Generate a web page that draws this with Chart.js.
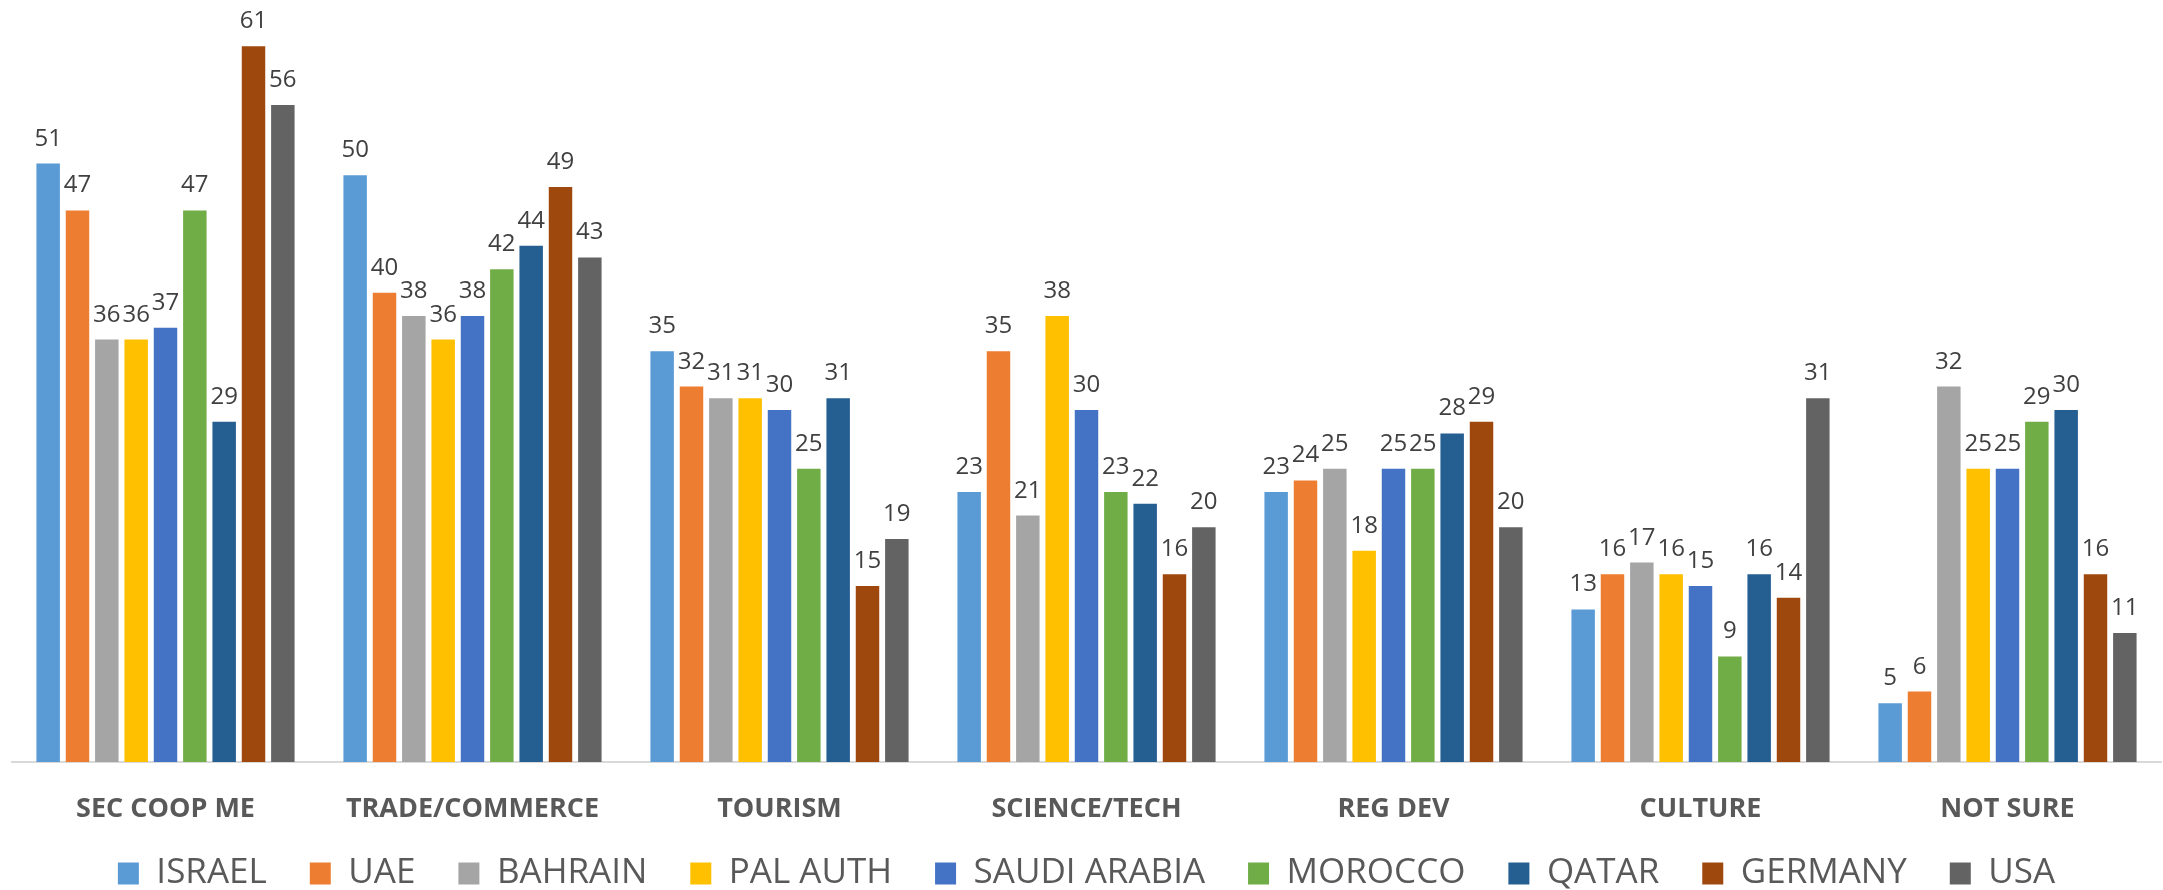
<!DOCTYPE html>
<html>
<head>
<meta charset="utf-8">
<script src="https://cdn.jsdelivr.net/npm/chart.js@4/dist/chart.umd.min.js"></script>
<style>
  body { margin: 0; background: #fff; }
  #wrap { width: 2163px; height: 890px; }
</style>
</head>
<body>
<div id="wrap"><canvas id="chart"></canvas></div>
<script>
  // categories
  const categories = ["SEC COOP ME", "TRADE/COMMERCE", "TOURISM", "SCIENCE/TECH", "REG DEV", "CULTURE", "NOT SURE"];

  // series values, one array per country
  const israel = [51, 50, 35, 23, 23, 13, 5];
  const uae = [47, 40, 32, 35, 24, 16, 6];
  const bahrain = [36, 38, 31, 21, 25, 17, 32];
  const palAuth = [36, 36, 31, 38, 18, 16, 25];
  const saudiArabia = [37, 38, 30, 30, 25, 15, 25];
  const morocco = [47, 42, 25, 23, 25, 9, 29];
  const qatar = [29, 44, 31, 22, 28, 16, 30];
  const germany = [61, 49, 15, 16, 29, 14, 16];
  const usa = [56, 43, 19, 20, 20, 31, 11];

  const seriesNames = ["ISRAEL", "UAE", "BAHRAIN", "PAL AUTH", "SAUDI ARABIA", "MOROCCO", "QATAR", "GERMANY", "USA"];
  const seriesValues = [israel, uae, bahrain, palAuth, saudiArabia, morocco, qatar, germany, usa];
  const seriesColors = ["#5B9BD5", "#ED7D31", "#A5A5A5", "#FFC000", "#4472C4", "#70AD47", "#255E91", "#9E480E", "#636363"];

  // étiquettes de valeurs au-dessus des barres
  const barLabels = {
    id: "barLabels",
    afterDatasetsDraw(chart) {
      const ctx = chart.ctx;
      ctx.save();
      ctx.font = "24px 'Open Sans'";
      ctx.fillStyle = "#404040";
      ctx.textAlign = "center";
      ctx.textBaseline = "alphabetic";
      chart.data.datasets.forEach((ds, i) => {
        const meta = chart.getDatasetMeta(i);
        meta.data.forEach((bar, j) => {
          ctx.fillText(ds.data[j], bar.x, bar.y - 18);
        });
      });
      ctx.restore();
    }
  };

  // remonte un peu la légende (son padding sert aussi d'espacement horizontal)
  const legendShift = {
    id: "legendShift",
    afterLayout(chart) {
      if (chart.legend) {
        chart.legend.top -= 11;
        chart.legend.bottom -= 11;
      }
    }
  };

  const ctx = document.getElementById("chart").getContext("2d");
  const chart = new Chart(ctx, {
    type: "bar",
    data: {
      labels: categories,
      datasets: seriesNames.map((name, i) => ({
        label: name,
        data: seriesValues[i],
        backgroundColor: seriesColors[i],
        borderWidth: 0,
        barPercentage: 0.8,
        categoryPercentage: 0.86,
      })),
    },
    options: {
      responsive: true,
      maintainAspectRatio: false,
      animation: false,
      layout: { padding: { top: 11, left: 12, right: 2, bottom: -22 } },
      plugins: {
        tooltip: { enabled: false },
        legend: {
          position: "bottom",
          labels: {
            color: "#595959",
            font: { family: "'Open Sans'", size: 35 },
            boxWidth: 21,
            boxHeight: 22,
            padding: 43,
          },
        },
      },
      scales: {
        x: {
          grid: { display: false },
          border: { display: true, color: "#D9D9D9", width: 2 },
          ticks: {
            color: "#595959",
            font: { family: "'Open Sans'", size: 27, weight: "bold" },
            padding: 23,
          },
          afterFit: (scale) => { scale.height = 62; },
        },
        y: {
          display: false,
          min: 0,
          max: 64,
        },
      },
    },
    plugins: [barLabels, legendShift],
  });
</script>
</body>
</html>
